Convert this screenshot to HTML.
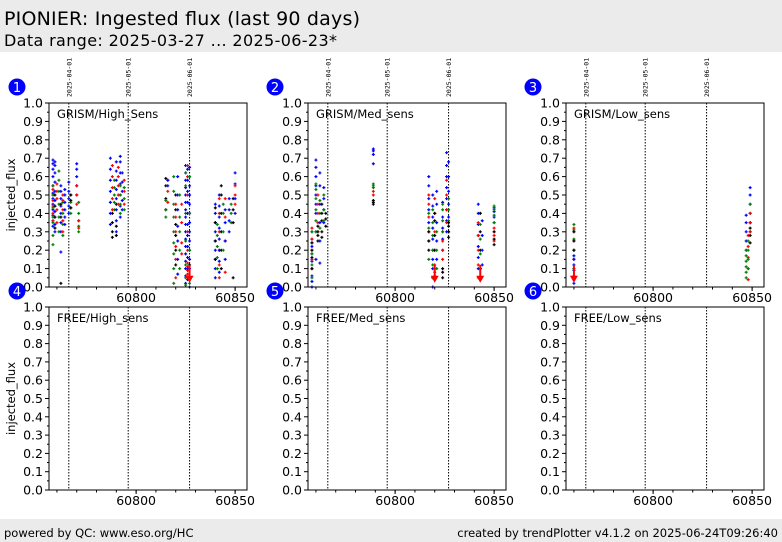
<!DOCTYPE html>
<html><head><meta charset="utf-8"><style>
body{margin:0;background:#fff;}
svg{display:block;font-family:"DejaVu Sans","Liberation Sans",sans-serif;}
</style></head><body>
<svg id="chart" width="782" height="542" viewBox="0 0 782 542" xmlns="http://www.w3.org/2000/svg">
<rect x="0" y="0" width="782" height="52" fill="#ebebeb"/>
<text x="4" y="25" font-size="19" textLength="356">PIONIER: Ingested flux (last 90 days)</text>
<text x="4" y="46" font-size="16" textLength="333">Data range: 2025-03-27 ... 2025-06-23*</text>
<rect x="0" y="519" width="782" height="23" fill="#ebebeb"/>
<text x="4" y="537" font-size="11.5">powered by QC: www.eso.org/HC</text>
<text x="778" y="537" font-size="11.5" text-anchor="end">created by trendPlotter v4.1.2 on 2025-06-24T09:26:40</text>
</svg>
<script>
const yTicks = [0,0.1,0.2,0.3,0.4,0.5,0.6,0.7,0.8,0.9,1.0];
const xTicks = [60800,60850];
const xMinor = [60760,60770,60780,60790,60800,60810,60820,60830,60840,60850];
const dateMarks = [60766,60796,60827];
const dateLabels = ["2025-04-01","2025-05-01","2025-06-01"];
const panelTitles = ["GRISM/High_Sens","GRISM/Med_sens","GRISM/Low_sens","FREE/High_sens","FREE/Med_sens","FREE/Low_sens"];
// columns: [mjd, color, values]
const seriesHigh = [
 [60758,'b',[.33,.36,.39,.42,.45,.48,.51,.55,.6,.64,.67,.69]],
 [60758,'r',[.36,.4,.44,.47,.5,.53,.55]],
 [60758,'g',[.23,.28,.35,.38,.43,.5,.55]],
 [60759,'b',[.3,.34,.38,.41,.44,.47,.52,.57,.62,.66,.68]],
 [60759,'k',[.32,.38,.44,.5]],
 [60760,'r',[.35,.42,.48,.52,.56]],
 [60761,'g',[.3,.38,.45,.52,.58,.63]],
 [60762,'b',[.19,.3,.35,.4,.44,.48,.52,.55]],
 [60762,'k',[.02,.38,.45]],
 [60763,'r',[.3,.36,.42,.47,.5]],
 [60763,'g',[.28,.34,.4,.46]],
 [60764,'b',[.34,.38,.42,.46,.5,.53]],
 [60766,'b',[.4,.44,.48,.52,.57]],
 [60767,'g',[.4,.43,.46,.5]],
 [60767,'k',[.43,.47,.5]],
 [60770,'b',[.5,.55,.6,.64,.67]],
 [60770,'r',[.45,.5,.55]],
 [60771,'g',[.3,.33,.36,.4,.46]],
 [60771,'r',[.32,.36]],
 [60787,'b',[.34,.4,.46,.52,.58,.64,.7]],
 [60788,'r',[.42,.48,.54,.6,.66]],
 [60788,'k',[.27,.3,.35,.4]],
 [60789,'g',[.42,.46,.5,.54,.58]],
 [60790,'b',[.3,.36,.42,.48,.53,.58,.63,.68]],
 [60790,'k',[.28,.33,.45]],
 [60791,'r',[.45,.5,.55,.6,.65]],
 [60792,'b',[.38,.44,.5,.56,.62,.68,.71]],
 [60792,'g',[.4,.45,.5,.55]],
 [60793,'b',[.42,.47,.52,.57,.62]],
 [60794,'g',[.42,.48,.54]],
 [60794,'r',[.45,.52,.58]],
 [60815,'k',[.42,.48,.55,.59]],
 [60815,'g',[.38,.42,.47]],
 [60816,'r',[.46,.52,.58]],
 [60816,'b',[.55,.58]],
 [60819,'g',[.02,.1,.18,.24,.3,.38,.45,.52,.6]],
 [60820,'k',[.12,.2,.28,.34,.42,.5]],
 [60820,'r',[.05,.15,.22,.3,.38,.45]],
 [60821,'b',[.07,.15,.25,.33,.42,.5,.6]],
 [60822,'g',[.1,.2,.3,.38,.5]],
 [60823,'r',[.18,.24,.35,.45]],
 [60825,'b',[.02,.06,.1,.14,.18,.22,.26,.3,.34,.38,.42,.46,.5,.54,.58,.62,.66]],
 [60825,'g',[.01,.05,.12,.25,.4,.55,.62]],
 [60826,'r',[.05,.07,.09,.11,.13,.2,.3,.4,.5,.6,.66]],
 [60826,'b',[.04,.1,.16,.22,.28,.34,.4,.46,.52,.58,.64]],
 [60827,'b',[0,.05,.1,.15,.2,.25,.3,.35,.4,.45,.5,.55,.6,.65]],
 [60827,'g',[.02,.2,.4,.6]],
 [60827,'k',[.05,.12]],
 [60840,'b',[.05,.1,.15,.2,.25,.3,.35,.4,.45]],
 [60840,'k',[.15,.25,.35,.43]],
 [60841,'g',[.1,.16,.22,.28,.34]],
 [60842,'r',[.05,.12,.2,.3,.4,.48]],
 [60842,'b',[.08,.14,.2,.26,.32,.38,.44,.5]],
 [60843,'k',[.1,.2,.3,.4,.5,.55]],
 [60844,'g',[.2,.3,.4,.45]],
 [60845,'r',[.08,.25,.38,.48]],
 [60845,'b',[.15,.25,.35,.42]],
 [60847,'b',[.3,.36,.42,.48]],
 [60848,'g',[.35,.4,.45]],
 [60849,'k',[.05,.35,.42,.48]],
 [60850,'b',[.4,.48,.56,.62]],
 [60850,'r',[.45,.5,.55]]
];
const seriesMed = [
 [60758,'b',[0,.03,.06,.1,.14,.18,.22,.26,.3]],
 [60758,'r',[.1,.15,.2,.26,.32]],
 [60758,'g',[.05,.12,.18,.24,.3]],
 [60758,'k',[.1,.16,.2,.24]],
 [60760,'b',[.15,.3,.4,.45,.5,.55,.6,.65,.69]],
 [60760,'g',[.3,.36,.42,.48,.53,.56]],
 [60761,'r',[.3,.35,.4,.45,.5]],
 [60761,'k',[.25,.28,.3,.33]],
 [60762,'b',[.13,.25,.35,.45,.55,.62]],
 [60762,'g',[.32,.4,.47]],
 [60763,'k',[.27,.3,.36,.4,.45]],
 [60764,'b',[.35,.42,.48,.54]],
 [60764,'g',[.36,.42,.5]],
 [60765,'k',[.33,.37,.4]],
 [60789,'b',[.67,.72,.74,.75]],
 [60789,'g',[.54,.55,.56]],
 [60789,'r',[.5,.52]],
 [60789,'k',[.45,.46,.47]],
 [60817,'b',[.35,.42,.48,.55,.6]],
 [60817,'r',[.3,.38,.45,.5]],
 [60817,'g',[.15,.25,.32,.4]],
 [60817,'k',[.2,.25,.3]],
 [60819,'b',[0,.05,.1,.15,.2,.26,.32,.38,.44,.5]],
 [60819,'g',[.05,.12,.2,.28,.35,.42]],
 [60820,'r',[.06,.08,.1,.12,.2,.3,.4,.48]],
 [60820,'k',[.2,.28,.36,.4]],
 [60821,'b',[.15,.25,.35,.45,.52]],
 [60821,'g',[.1,.2,.3]],
 [60824,'b',[.2,.26,.32,.38,.46]],
 [60824,'r',[.15,.2,.25,.3]],
 [60824,'k',[.05,.08,.1]],
 [60824,'g',[.3,.36,.42,.45]],
 [60826,'b',[.3,.36,.42,.48,.54,.6,.66,.73]],
 [60826,'r',[.35,.42,.5,.58]],
 [60827,'g',[.3,.36,.42,.48]],
 [60827,'k',[.27,.3,.33,.35]],
 [60827,'b',[.38,.45,.52,.6,.68]],
 [60842,'b',[.1,.16,.22,.28,.34,.4,.45]],
 [60842,'r',[.05,.12,.2,.28,.35]],
 [60843,'g',[.1,.18,.26,.34,.4]],
 [60843,'k',[.1,.2,.3,.4]],
 [60844,'b',[.12,.2,.28,.36]],
 [60850,'b',[.35,.38,.41,.43]],
 [60850,'g',[.35,.39,.42,.44]],
 [60850,'r',[.25,.28,.3,.32]],
 [60850,'k',[.23,.26,.3]]
];
const seriesLow = [
 [60760,'r',[.05,.1,.15,.2,.25,.3,.32]],
 [60760,'g',[.1,.15,.2,.26,.31,.34]],
 [60760,'b',[.02,.04,.06,.09,.12,.15,.17]],
 [60760,'k',[.2,.25,.3]],
 [60847,'b',[.2,.25,.3,.35,.39]],
 [60847,'g',[.05,.08,.11,.14,.17,.2]],
 [60848,'r',[.04,.1,.16,.22,.28]],
 [60848,'g',[.1,.15,.2,.25]],
 [60849,'b',[.3,.35,.4,.45,.5,.54]],
 [60849,'g',[.3,.35,.4,.45]],
 [60849,'k',[.24,.28,.32,.35]],
 [60849,'r',[.3,.35,.4]]
];
const arrowsHigh = [60827];
const arrowsMed = [60820,60843];
const arrowsLow = [60760];

const NS = "http://www.w3.org/2000/svg";
const svg = document.getElementById('chart');
const colorMap = {b:'#0000ff',r:'#ff0000',g:'#008000',k:'#000000'};
const X_DOMAIN = [60756,60856];
const panels = [
 {x0:49,x1:247,y0:103,y1:287,num:1,cx:17,cy:87},
 {x0:308,x1:506,y0:103,y1:287,num:2,cx:275,cy:87},
 {x0:566,x1:764,y0:103,y1:287,num:3,cx:533,cy:87},
 {x0:49,x1:247,y0:307,y1:490,num:4,cx:17,cy:291},
 {x0:308,x1:506,y0:307,y1:490,num:5,cx:275,cy:291},
 {x0:566,x1:764,y0:307,y1:490,num:6,cx:533,cy:291}
];
const panelData = [seriesHigh,seriesMed,seriesLow,[],[],[]];
const panelArrows = [arrowsHigh,arrowsMed,arrowsLow,[],[],[]];

function mk(tag, attrs, parent){
  const e = document.createElementNS(NS, tag);
  for (const k in attrs) e.setAttribute(k, attrs[k]);
  (parent||svg).appendChild(e);
  return e;
}

panels.forEach((p, i) => {
  const xs = v => p.x0 + (v - X_DOMAIN[0]) / (X_DOMAIN[1]-X_DOMAIN[0]) * (p.x1-p.x0);
  const ys = v => p.y1 - v * (p.y1-p.y0);
  const g = mk('g', {});
  
  
  const bg = mk('rect', {x:p.x0,y:p.y0,width:p.x1-p.x0,height:p.y1-p.y0,fill:'#fff'}, g);
  
  
  dateMarks.forEach((d, j) => {
    const x = xs(d);
    const l = mk('line', {x1:x,x2:x,y1:p.y0,y2:p.y1,stroke:'#000','stroke-width':1,'stroke-dasharray':'1.5,1.5'}, g);
    
    
    if (p.num <= 3) {
      const t = mk('text', {x:0,y:0,'font-size':6.5,'font-family':'DejaVu Sans Mono, Liberation Mono, monospace','text-anchor':'start',transform:'translate('+(x+2.5)+',97) rotate(-90)'}, g);
      t.textContent = dateLabels[j];
      
      
    }
  });
  panelData[i].forEach(col => {
    const x = xs(col[0]);
    col[2].forEach(v => {
      const y = ys(v);
      const c = mk('path', {d:'M'+(x-1.5)+','+y+'h3M'+x+','+(y-1.5)+'v3',stroke:colorMap[col[1]],'stroke-width':1.2,fill:'none'}, g);
      
      
    });
  });
  panelArrows[i].forEach(d => {
    const x = xs(d), y = ys(0.05);
    const s = mk('line', {x1:x,x2:x,y1:ys(0.12),y2:y,stroke:'#ff0000','stroke-width':2}, g);
    
    
    const a = mk('path', {d:'M'+(x-4)+','+(y-2)+' L'+(x+4)+','+(y-2)+' L'+x+','+(y+5)+' Z',fill:'#ff0000'}, g);
    
    
  });
  const fr = mk('rect', {x:p.x0,y:p.y0,width:p.x1-p.x0,height:p.y1-p.y0,fill:'none',stroke:'#000','stroke-width':1}, g);
  
  
  yTicks.forEach(v => {
    const y = ys(v);
    const tl = mk('line', {x1:p.x0-4,x2:p.x0,y1:y,y2:y,stroke:'#000'}, g);
    
    
    const t = mk('text', {x:p.x0-6,y:y+4.5,'font-size':12.5,'text-anchor':'end'}, g);
    t.textContent = v.toFixed(1);
    
    
    if (v < 1) {
      const ym = ys(v+0.05);
      const mt = mk('line', {x1:p.x0-2,x2:p.x0,y1:ym,y2:ym,stroke:'#000'}, g);
      
      
    }
  });
  xMinor.forEach(v => {
    const x = xs(v);
    const mt = mk('line', {x1:x,x2:x,y1:p.y1,y2:p.y1+2.5,stroke:'#000'}, g);
    
    
  });
  xTicks.forEach(v => {
    const x = xs(v);
    const tl = mk('line', {x1:x,x2:x,y1:p.y1,y2:p.y1+4,stroke:'#000'}, g);
    
    
    const t = mk('text', {x:x,y:p.y1+15,'font-size':12.5,'text-anchor':'middle'}, g);
    t.textContent = v;
    
    
  });
  const tt = mk('text', {x:p.x0+8,y:p.y0+15,'font-size':11.5}, g);
  tt.textContent = panelTitles[i];
  
  
  if (i % 3 === 0) {
    const yl = mk('text', {x:0,y:0,'font-size':11.5,'text-anchor':'middle',transform:'translate(15,'+((p.y0+p.y1)/2)+') rotate(-90)'}, g);
    yl.textContent = 'injected_flux';
    
    
  }
  const c = mk('circle', {cx:p.cx,cy:p.cy,r:8.5,fill:'#0000ff'}, g);
  
  
  const ct = mk('text', {x:p.cx,y:p.cy+5,'font-size':13,fill:'#fff','text-anchor':'middle'}, g);
  ct.textContent = p.num;
  
  
});
</script>
</body></html>
